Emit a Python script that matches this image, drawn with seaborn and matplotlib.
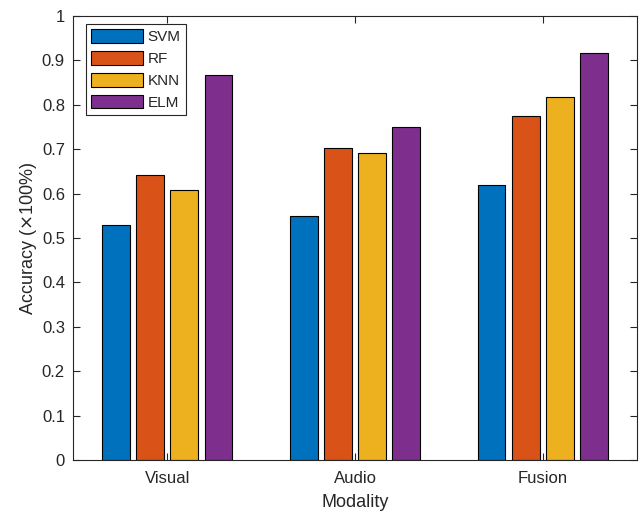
import seaborn as sns
import matplotlib.pyplot as plt
import pandas as pd

# Accuracy values
modalities = ["Visual", "Audio", "Fusion"]
methods = ["SVM", "RF", "KNN", "ELM"]
svm = [0.529, 0.550, 0.620]
rf = [0.643, 0.703, 0.775]
knn = [0.609, 0.692, 0.817]
elm = [0.866, 0.749, 0.917]
colors = ["#0072BD", "#D95319", "#EDB120", "#7E2F8E"]
yticks = [0, 0.1, 0.2, 0.3, 0.4, 0.5, 0.6, 0.7, 0.8, 0.9, 1]
ytick_labels = ["0", "0.1", "0.2", "0.3", "0.4", "0.5", "0.6", "0.7", "0.8", "0.9", "1"]

# Build long-form table
rows = []
for m, vals in zip(methods, [svm, rf, knn, elm]):
    for mod, v in zip(modalities, vals):
        rows.append({"Modality": mod, "Method": m, "Accuracy": v})
df = pd.DataFrame(rows)

sns.set_style("white")
plt.rcParams["font.family"] = ["Liberation Sans", "DejaVu Sans"]

fig = plt.figure(figsize=(6.39, 5.14), dpi=100)
ax = fig.add_axes([0.1147, 0.105, 0.8817, 0.8639])

sns.barplot(data=df, x="Modality", y="Accuracy", hue="Method",
            order=modalities, hue_order=methods, palette=colors,
            saturation=1, width=0.727, gap=0.19, edgecolor="black",
            linewidth=0.8, errorbar=None, ax=ax)

ax.set_xlim(-0.5, 2.5)
ax.set_ylim(0, 1)
ax.set_yticks(yticks)
ax.set_yticklabels(ytick_labels)
ax.set_xlabel("Modality", fontsize=13, labelpad=6)
ax.set_ylabel("Accuracy ($\\times$100%)", fontsize=13, labelpad=2)

for sp in ax.spines.values():
    sp.set_visible(True)
    sp.set_color("#262626")
    sp.set_linewidth(0.8)
ax.tick_params(axis="both", direction="in", length=5, width=0.8,
               labelsize=12, color="#262626", top=True, right=True,
               bottom=True, left=True)
ax.tick_params(axis="x", pad=8)
ax.tick_params(axis="y", pad=6)

leg = ax.legend(loc="upper left", bbox_to_anchor=(0.0225, 0.982),
                fontsize=11, handlelength=3.4, handleheight=1.0,
                labelspacing=0.44, handletextpad=0.3, borderpad=0.35,
                borderaxespad=0, fancybox=False, framealpha=1,
                edgecolor="#262626")
leg.get_frame().set_linewidth(0.8)

fig.savefig("out.png", dpi=100)
